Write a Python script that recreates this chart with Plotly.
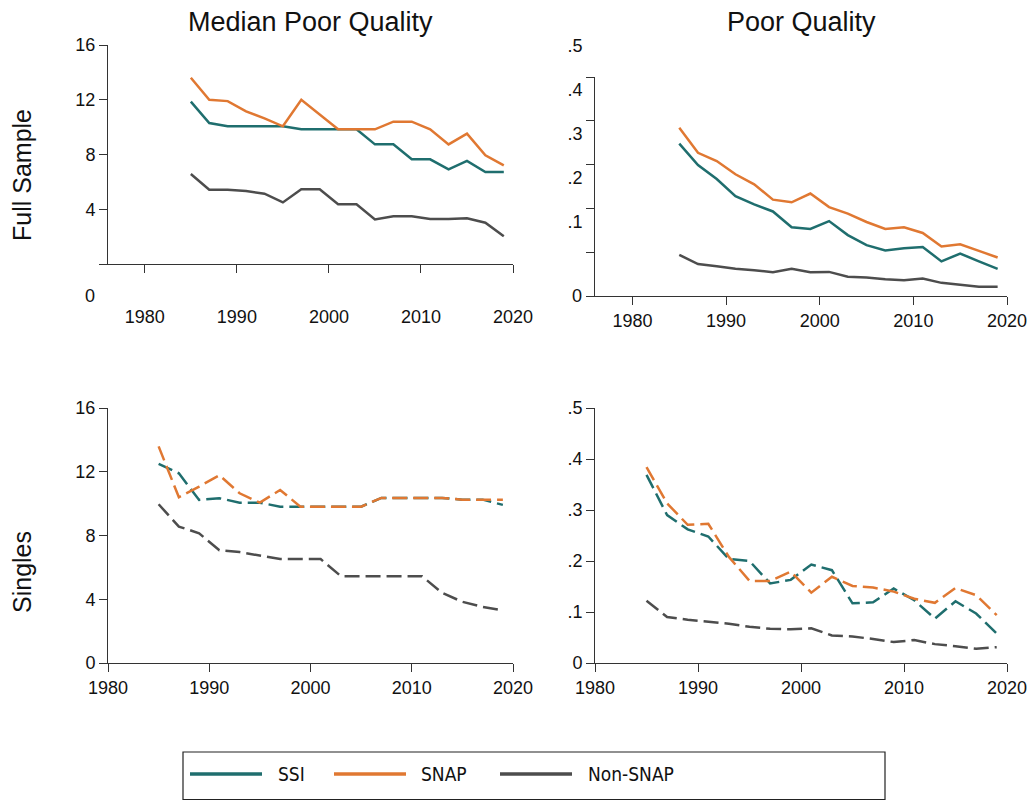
import plotly.graph_objects as go

# Survey years (biennial)
years = [1985, 1987, 1989, 1991, 1993, 1995, 1997, 1999, 2001,
         2003, 2005, 2007, 2009, 2011, 2013, 2015, 2017, 2019]

# Full sample: median poor quality
full_median_ssi = [11.86, 10.30, 10.06, 10.06, 10.06, 10.06, 9.84, 9.84, 9.84,
                   9.84, 8.74, 8.74, 7.65, 7.65, 6.92, 7.53, 6.72, 6.72]
full_median_snap = [13.61, 12.00, 11.90, 11.15, 10.64, 10.06, 12.00, 10.89, 9.84,
                    9.84, 9.84, 10.40, 10.40, 9.84, 8.74, 9.52, 7.94, 7.21]
full_median_non = [6.58, 5.43, 5.43, 5.33, 5.14, 4.50, 5.46, 5.46, 4.36,
                   4.36, 3.26, 3.48, 3.48, 3.29, 3.29, 3.34, 3.02, 2.02]

# Full sample: share poor quality
full_share_ssi = [0.348, 0.299, 0.267, 0.228, 0.209, 0.193, 0.157, 0.153, 0.171,
                  0.139, 0.116, 0.104, 0.109, 0.112, 0.079, 0.097, 0.079, 0.062]
full_share_snap = [0.384, 0.327, 0.308, 0.278, 0.255, 0.220, 0.214, 0.234, 0.203,
                   0.188, 0.169, 0.153, 0.157, 0.144, 0.113, 0.118, 0.103, 0.088]
full_share_non = [0.094, 0.073, 0.068, 0.062, 0.059, 0.054, 0.062, 0.054, 0.055,
                  0.044, 0.042, 0.038, 0.036, 0.040, 0.030, 0.026, 0.021, 0.021]

# Singles: median poor quality
singles_median_ssi = [12.50, 11.90, 10.23, 10.34, 10.06, 10.06, 9.81, 9.81, 9.81,
                      9.81, 9.81, 10.36, 10.36, 10.36, 10.36, 10.25, 10.25, 9.92]
singles_median_snap = [13.59, 10.40, 11.07, 11.78, 10.65, 10.06, 10.86, 9.81, 9.81,
                       9.81, 9.81, 10.36, 10.36, 10.36, 10.36, 10.25, 10.25, 10.25]
singles_median_non = [9.96, 8.56, 8.14, 7.07, 6.96, 6.75, 6.52, 6.52, 6.52,
                      5.45, 5.45, 5.45, 5.45, 5.45, 4.40, 3.84, 3.52, 3.31]

# Singles: share poor quality
singles_share_ssi = [0.369, 0.290, 0.262, 0.248, 0.204, 0.200, 0.156, 0.163, 0.193,
                     0.182, 0.117, 0.119, 0.146, 0.123, 0.087, 0.121, 0.097, 0.058]
singles_share_snap = [0.384, 0.313, 0.271, 0.273, 0.208, 0.161, 0.161, 0.179, 0.138,
                      0.169, 0.151, 0.148, 0.140, 0.126, 0.118, 0.147, 0.133, 0.094]
singles_share_non = [0.122, 0.090, 0.085, 0.081, 0.077, 0.071, 0.067, 0.066, 0.068,
                     0.054, 0.052, 0.047, 0.041, 0.045, 0.037, 0.033, 0.028, 0.031]

group_names = ["SSI", "SNAP", "Non-SNAP"]
colors = ["#1f6e6e", "#e07832", "#4d4d4d"]

median_ticks = [0, 4, 8, 12, 16]
share_ticks = [0, 0.1, 0.2, 0.3, 0.4, 0.5]
share_labels = ["0", ".1", ".2", ".3", ".4", ".5"]
year_ticks = [1980, 1990, 2000, 2010, 2020]

W, H = 1032, 800
FONT = "Arial, Liberation Sans, Helvetica, sans-serif"
NARROW = "DejaVu Sans Condensed, Liberation Sans Narrow, Arial Narrow, sans-serif"
AXC = "#333333"
TXT = "#111111"

panels = [
    # (axis suffix, series, dash)
    ("", [full_median_ssi, full_median_snap, full_median_non], "solid"),
    ("2", [full_share_ssi, full_share_snap, full_share_non], "solid"),
    ("3", [singles_median_ssi, singles_median_snap, singles_median_non], "15px,6px"),
    ("4", [singles_share_ssi, singles_share_snap, singles_share_non], "15px,6px"),
]

fig = go.Figure()
for suffix, series, dash in panels:
    for name, vals, col in zip(group_names, series, colors):
        fig.add_trace(go.Scatter(
            x=years, y=vals, mode="lines", name=name, showlegend=False,
            line=dict(color=col, width=2.5, dash=dash),
            xaxis="x" + suffix, yaxis="y" + suffix,
        ))


def px_x(a, b):
    return [a / W, b / W]


def px_y(top, bottom):
    return [1 - bottom / H, 1 - top / H]


common = dict(showline=True, linecolor=AXC, linewidth=1, ticks="outside",
              ticklen=8, tickcolor=AXC, tickwidth=1, showgrid=False,
              zeroline=False, automargin=False,
              tickfont=dict(family=FONT, size=18, color=TXT))

left_x = px_x(108, 513)
right_x = px_x(595, 1007)

fig.update_layout(
    template="none",
    width=W, height=H, margin=dict(l=0, r=0, t=0, b=0, autoexpand=False),
    paper_bgcolor="white", plot_bgcolor="white", showlegend=False,
    xaxis=dict(domain=left_x, anchor="y", range=[1976, 2020], tickvals=year_ticks,
               ticklabelstandoff=28, **common),
    yaxis=dict(domain=px_y(45, 264), anchor="x", range=[0, 16], tickvals=median_ticks,
               ticktext=[""] + [str(t) for t in median_ticks[1:]], **common),
    xaxis2=dict(domain=right_x, anchor="y2", range=[1976, 2020], tickvals=year_ticks, **common),
    yaxis2=dict(domain=px_y(77, 296), anchor="x2", range=[0, 0.5], tickvals=share_ticks,
                ticktext=[""] + share_labels[1:], ticklabelshift=-31, **common),
    xaxis3=dict(domain=left_x, anchor="y3", range=[1980, 2020], tickvals=year_ticks, **common),
    yaxis3=dict(domain=px_y(408, 663), anchor="x3", range=[0, 16], tickvals=median_ticks,
                ticktext=[str(t) for t in median_ticks], **common),
    xaxis4=dict(domain=right_x, anchor="y4", range=[1980, 2020], tickvals=year_ticks, **common),
    yaxis4=dict(domain=px_y(408, 663), anchor="x4", range=[0, 0.5], tickvals=share_ticks,
                ticktext=share_labels, **common),
)

annotations = [
    # zero labels of the top row
    dict(text="0", xref="x domain", yref="y", x=0, y=0, xanchor="right", yanchor="middle",
         xshift=-11, yshift=-32, showarrow=False, font=dict(family=FONT, size=18, color=TXT)),
    dict(text="0", xref="x2 domain", yref="y2", x=0, y=0, xanchor="right", yanchor="middle",
         xshift=-11, showarrow=False, font=dict(family=FONT, size=18, color=TXT)),
    # column titles
    dict(text="Median Poor Quality", xref="x domain", yref="paper", x=0.5, y=1 - 22 / H,
         xanchor="center", yanchor="middle", showarrow=False,
         font=dict(family=FONT, size=27, color=TXT)),
    dict(text="Poor Quality", xref="x2 domain", yref="paper", x=0.5, y=1 - 22 / H,
         xanchor="center", yanchor="middle", showarrow=False,
         font=dict(family=FONT, size=27, color=TXT)),
    # row titles
    dict(text="Full Sample", xref="paper", yref="paper", x=22 / W, y=1 - 175 / H,
         xanchor="center", yanchor="middle", textangle=-90, showarrow=False,
         font=dict(family=FONT, size=25, color=TXT)),
    dict(text="Singles", xref="paper", yref="paper", x=22 / W, y=1 - 572 / H,
         xanchor="center", yanchor="middle", textangle=-90, showarrow=False,
         font=dict(family=FONT, size=25, color=TXT)),
]

# Legend drawn as a boxed key below the panels
shapes = [dict(type="rect", xref="paper", yref="paper", x0=183 / W, x1=885 / W,
               y0=1 - 799.5 / H, y1=1 - 752 / H, line=dict(color="#222", width=1.2),
               fillcolor="rgba(0,0,0,0)")]
key_lines = [(190, 262), (334, 406), (500, 572)]
key_text_x = [276, 419, 586]
for (a, b), tx, name, col in zip(key_lines, key_text_x, group_names, colors):
    shapes.append(dict(type="line", xref="paper", yref="paper", x0=a / W, x1=b / W,
                       y0=1 - 774 / H, y1=1 - 774 / H, line=dict(color=col, width=3.5)))
    annotations.append(dict(text=name, xref="paper", yref="paper", x=tx / W, y=1 - 774 / H,
                            xanchor="left", yanchor="middle", showarrow=False,
                            font=dict(family=NARROW, size=19, color=TXT)))

fig.update_layout(annotations=annotations, shapes=shapes)
fig.write_html("out.html")
